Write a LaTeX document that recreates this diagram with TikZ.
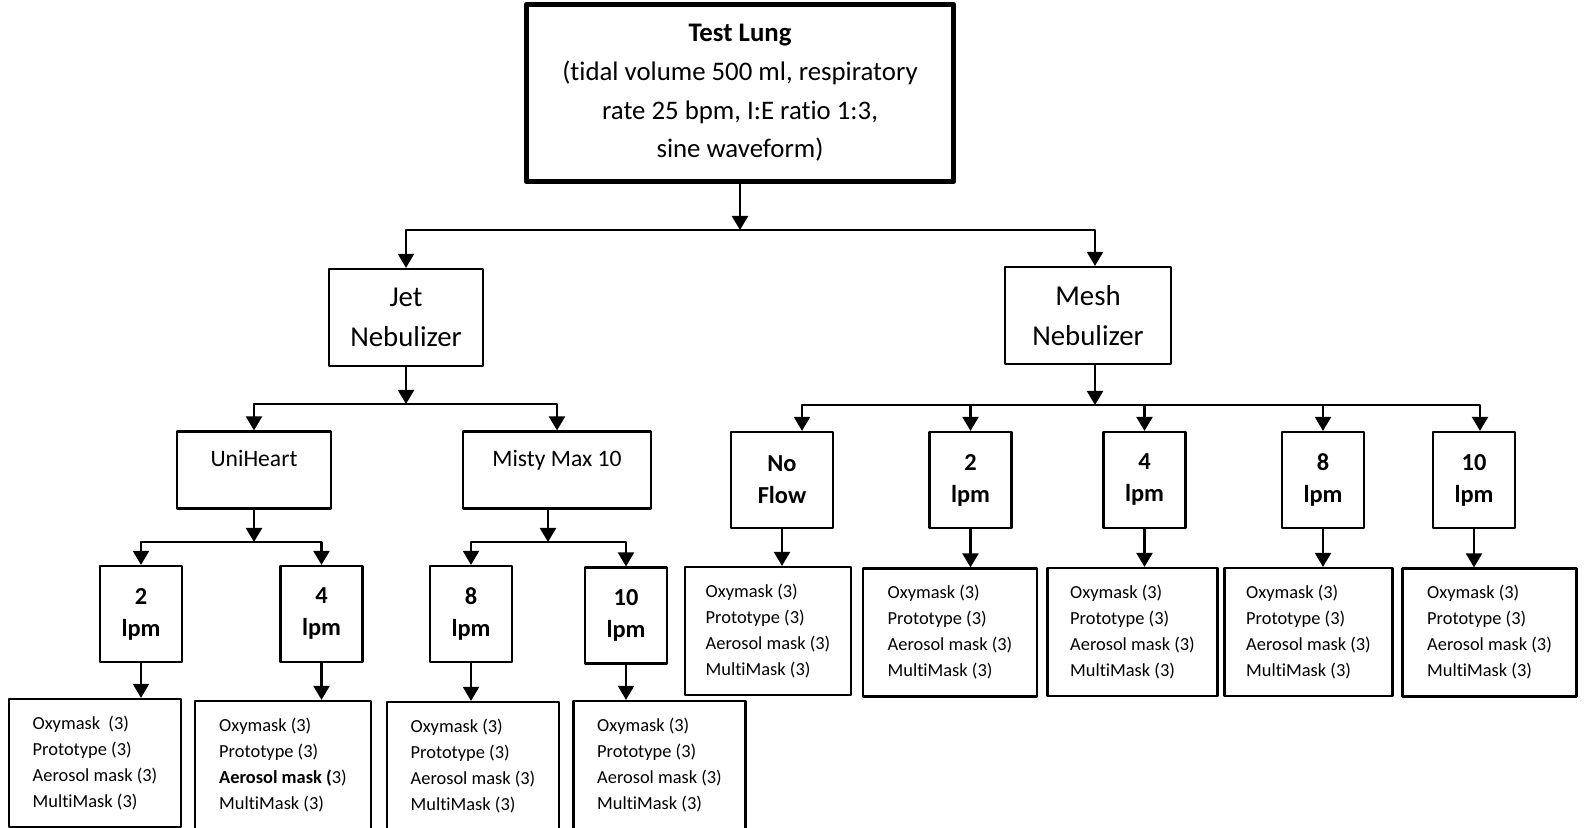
\documentclass[tikz,border=0pt]{standalone}
\usepackage{fontspec}
\setmainfont{Carlito}[Ligatures=CommonOff]
\usetikzlibrary{arrows.meta}
\newcommand{\masklist}{Oxymask (3)\\Prototype (3)\\Aerosol mask (3)\\MultiMask (3)}

\begin{document}
\begin{tikzpicture}[x=0.5pt,y=-0.5pt,line join=round,
    box/.style={draw,line width=1.1pt,inner sep=0pt,align=center},
    nebbox/.style={box,minimum height=48.5pt,font=\fontsize{14.4}{20}\selectfont},
    devbox/.style={box,minimum height=38.5pt,text depth=12pt,font=\fontsize{11.8}{15}\selectfont},
    flow/.style={box,minimum width=41pt,minimum height=48pt,font=\bfseries\fontsize{12.2}{16}\selectfont},
    leaf/.style={box,align=left,minimum height=64pt,font=\fontsize{9.2}{13}\selectfont},
    arr/.style={line width=1.1pt,-{Triangle[width=8pt,length=7pt]}}]
  \useasboundingbox (0,0) rectangle (1586,828);
  % top level
  \node[box,line width=2.5pt,minimum width=213.75pt,minimum height=88.75pt,
    font=\fontsize{13.4}{19.3}\selectfont] (lung) at (740,93)
    {\textbf{Test Lung}\\(tidal volume 500 ml, respiratory\\rate 25 bpm, I:E ratio 1:3,\\sine waveform)};
  \node[nebbox,minimum width=77pt] (jet) at (406,317.5) {Jet\\Nebulizer};
  \node[nebbox,minimum width=83pt] (mesh) at (1088,315.5) {Mesh\\Nebulizer};
  \node[devbox,minimum width=77pt] (uni) at (254,470) {UniHeart};
  \node[devbox,minimum width=94pt] (misty) at (557,470) {Misty Max 10};
  % flow rates
  \node[flow,minimum width=51pt] (nf) at (782,480) {No\\Flow};
  \foreach \n/\x/\y/\t in {u2/141/614/2,u4/321.5/614/4,j8/471/614/8,j10/626/615.5/10,
    m2/970.5/480/2,m4/1144.5/480/4,m8/1323/480/8,m10/1474/480/10}{
      \node[flow] (\n) at (\x,\y) {\t\\lpm};
  }
  % masks
  \node[leaf,minimum width=86pt] (u2-l) at (95,763)
    {Oxymask\ \ (3)\\Prototype (3)\\Aerosol mask (3)\\MultiMask (3)};
  \node[leaf,minimum width=88pt] (u4-l) at (283,765)
    {Oxymask (3)\\Prototype (3)\\\textbf{Aerosol mask (}3)\\MultiMask (3)};
  \foreach \n/\x/\y/\w in {j8-l/473/766/86,j10-l/659.5/765/86,nf-l/768/631/83,m2-l/950/632.5/87,
    m4-l/1132.5/632/85,m8-l/1308.5/632/84,m10-l/1489.5/632.5/87}{
      \node[leaf,minimum width=\w pt] (\n) at (\x,\y) {\masklist};
  }
  % branch points
  \coordinate (bus0) at (740,230);
  \coordinate (jbus) at (406,404);
  \coordinate (mbus) at (1095,405);
  \coordinate (ubus) at (254,542);
  \coordinate (tbus) at (548,542);
  % connectors
  \draw[arr] (lung.south) -- (bus0);
  \draw[arr] (bus0) -| (jet.north);
  \draw[arr] (bus0) -| (mbus |- mesh.north);
  \draw[arr] (jet.south) -- (jbus);
  \draw[arr] (jbus) -| (uni.north);
  \draw[arr] (jbus) -| (misty.north);
  \draw[arr] (mesh.south -| mbus) -- (mbus);
  \draw[arr] (mbus) -| ([xshift=10pt]nf.north);
  \foreach \n in {m2,m4,m8}{
      \draw[arr] (mbus) -| (\n.north);
  }
  \draw[arr] (mbus) -| ([xshift=3pt]m10.north);
  \draw[arr] (uni.south) -- (ubus);
  \draw[arr] (ubus) -| (u2.north);
  \draw[arr] (ubus) -| (u4.north);
  \draw[arr] (misty.south -| tbus) -- (tbus);
  \draw[arr] (tbus) -| (j8.north);
  \draw[arr] (tbus) -| (j10.north);
  \foreach \n in {u2,u4,j8,j10,nf,m2,m4,m8,m10}{
      \draw[arr] (\n.south) -- (\n.south |- \n-l.north);
  }
\end{tikzpicture}
\end{document}
